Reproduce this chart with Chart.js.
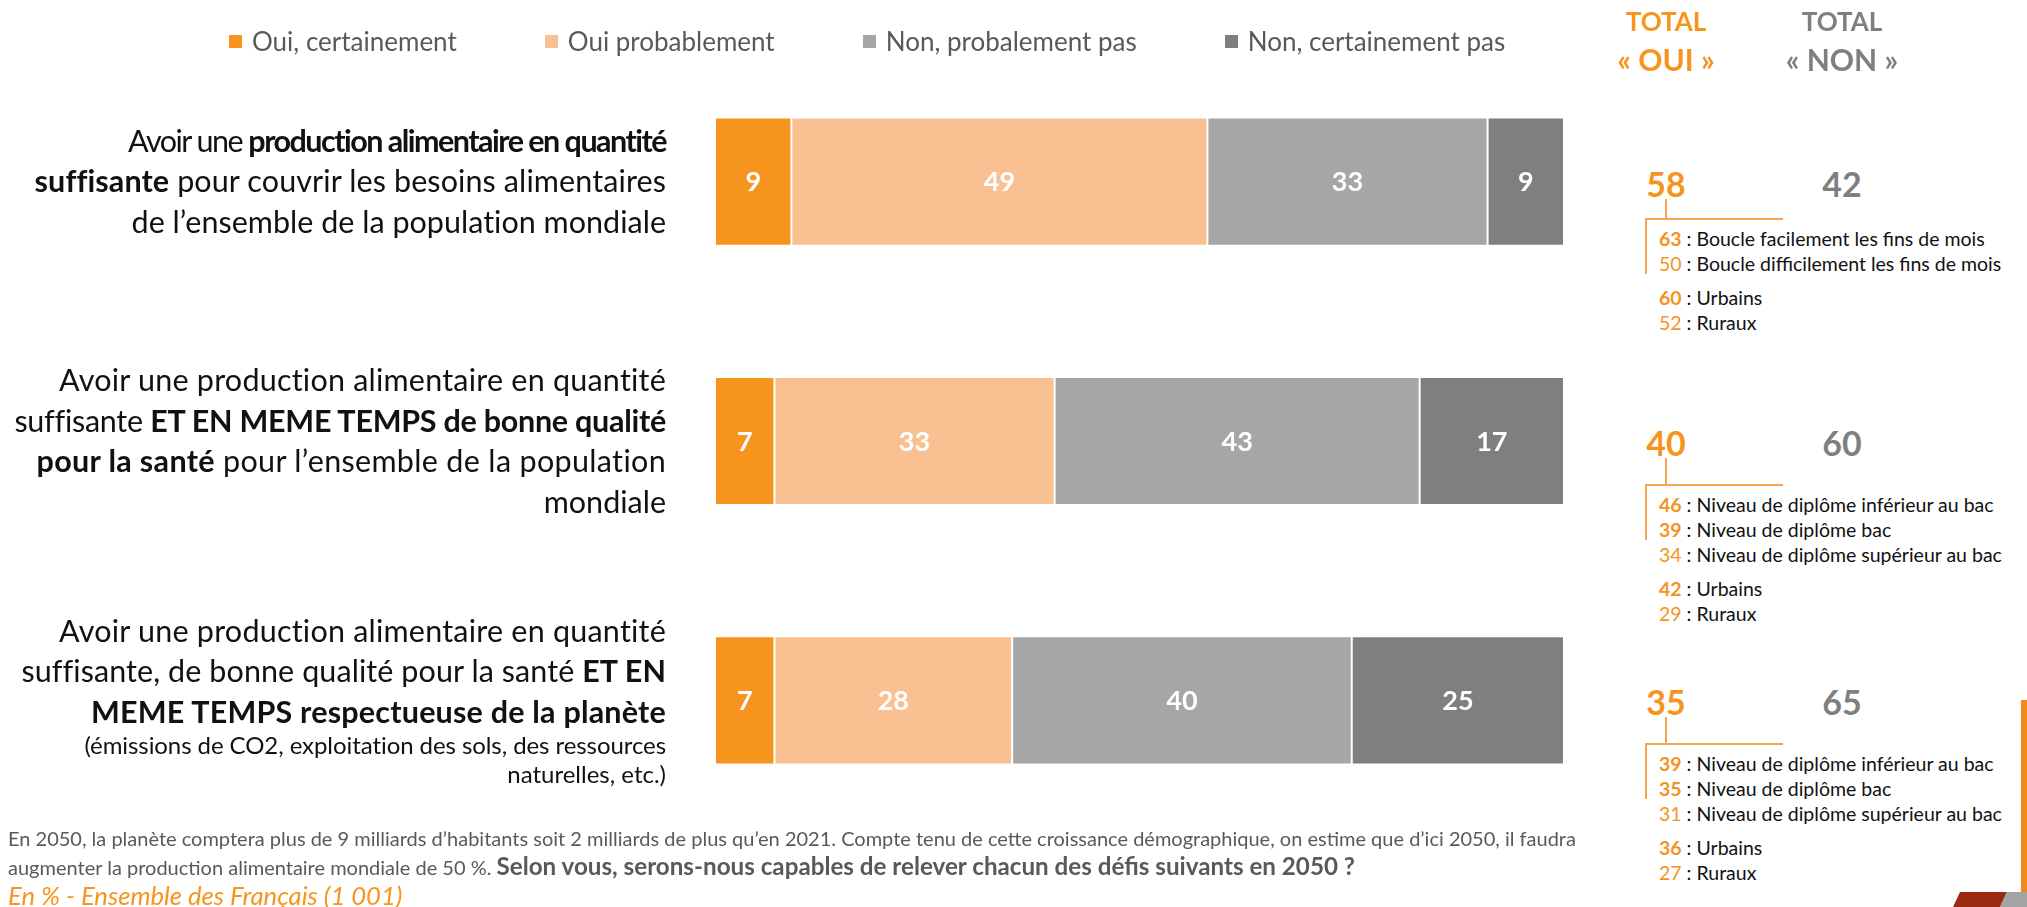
<!DOCTYPE html>
<html lang="fr">
<head>
<meta charset="utf-8">
<script src="https://cdn.jsdelivr.net/npm/chart.js@4.4.1/dist/chart.umd.min.js"></script>
<style>
body{margin:0;width:2027px;height:907px;position:relative;overflow:hidden;background:#fff;font-family:Lato,'Open Sans',sans-serif;}
#wrap{position:absolute;left:0;top:0;width:1600px;height:860px;}
#legend{position:absolute;top:25px;left:229px;display:flex;gap:88px;font-size:26px;color:#595959;white-space:nowrap;}
#legend .item{display:flex;align-items:center;}
#legend .box{width:13px;height:13px;margin-right:10px;}
.q{position:absolute;right:1361px;text-align:right;color:#111;font-size:30.5px;line-height:40.5px;white-space:nowrap;}
.q .s{font-size:24px;line-height:29px;}
.q .s1{margin-top:-1px;}
.head{position:absolute;top:2px;width:200px;text-align:center;font-weight:bold;font-size:26px;line-height:38px;}
.head span{font-size:30px;}
.tot{position:absolute;width:120px;text-align:center;font-weight:bold;font-size:34px;line-height:44px;}
.brk{position:absolute;background:#F5A550;}
.det{position:absolute;left:1659px;font-size:19.5px;line-height:25px;color:#111;white-space:nowrap;}
.det .n{color:#F39323;}
.det .sep{height:9px;}
#foot{position:absolute;left:8px;top:824px;font-size:20px;line-height:28px;color:#595959;white-space:nowrap;}
#foot b{font-size:24.2px;}
#foot i{color:#F7941D;font-size:25.6px;}
</style>
</head>
<body>
<div id="wrap"><canvas id="grafico" width="1600" height="860"></canvas></div>
<div id="legend"></div>
<div id="foot">En 2050, la planète comptera plus de 9 milliards d’habitants soit 2 milliards de plus qu’en 2021. Compte tenu de cette croissance démographique, on estime que d’ici 2050, il faudra<br>augmenter la production alimentaire mondiale de 50 %. <b>Selon vous, serons-nous capables de relever chacun des défis suivants en 2050 ?</b><br><i>En % - Ensemble des Français (1 001)</i></div>
<svg style="position:absolute;left:1940px;top:700px" width="87" height="207">
  <polygon points="81,0 87,0 87,192 81,192" fill="#F08A1C"/>
  <polygon points="13,207 20,192 67,192 60,207" fill="#9A2B10"/>
  <polygon points="60,207 67,192 87,192 87,207" fill="#A3A3A3"/>
</svg>
<script>
const categorias = ['Quantité suffisante', 'Quantité et qualité', 'Quantité, qualité et planète'];
const series = ['Oui, certainement', 'Oui probablement', 'Non, probalement pas', 'Non, certainement pas'];
const colores = ['#F7941D', '#F9C192', '#A6A6A6', '#7F7F7F'];
const ouiCertainement = [9, 7, 7];
const ouiProbablement = [49, 33, 28];
const nonProbablement = [33, 43, 40];
const nonCertainement = [9, 17, 25];
const totalOui = [58, 40, 35];
const totalNon = [42, 60, 65];

const preguntas = [
  ['Avoir une <b>production alimentaire en quantité</b>', '<b>suffisante</b> pour couvrir les besoins alimentaires', 'de l’ensemble de la population mondiale'],
  ['Avoir une production alimentaire en quantité', 'suffisante <b>ET EN MEME TEMPS de bonne qualité</b>', '<b>pour la santé</b> pour l’ensemble de la population', 'mondiale'],
  ['Avoir une production alimentaire en quantité', 'suffisante, de bonne qualité pour la santé <b>ET EN</b>', '<b>MEME TEMPS respectueuse de la planète</b>', '(émissions de CO2, exploitation des sols, des ressources', 'naturelles, etc.)']
];
const lineasPequenas = [[], [], [3, 4]];

const detalleValores = [[63, 50, 60, 52], [46, 39, 34, 42, 29], [39, 35, 31, 36, 27]];
const detalleNegrita = [[1, 0, 1, 0], [1, 1, 0, 1, 0], [1, 1, 0, 1, 0]];
const detalleTextos = [
  ['Boucle facilement les fins de mois', 'Boucle difficilement les fins de mois', 'Urbains', 'Ruraux'],
  ['Niveau de diplôme inférieur au bac', 'Niveau de diplôme bac', 'Niveau de diplôme supérieur au bac', 'Urbains', 'Ruraux'],
  ['Niveau de diplôme inférieur au bac', 'Niveau de diplôme bac', 'Niveau de diplôme supérieur au bac', 'Urbains', 'Ruraux']
];
const detalleCorte = [2, 3, 3];

const valores = [ouiCertainement, ouiProbablement, nonProbablement, nonCertainement];

// ancho de cada linea de texto (px) para imitar la fuente original, 0 = sin ajuste
const anchos = [[539, 630, 535], [608, 650, 630, 0], [608, 643, 575, 582, 0]];

// etiquetas blancas dentro de cada barra
const etiquetas = {
  id: 'etiquetas',
  afterDatasetsDraw(chart) {
    const ctx = chart.ctx;
    ctx.save();
    ctx.font = 'bold 27px Lato';
    ctx.fillStyle = '#fff';
    ctx.textAlign = 'center';
    ctx.textBaseline = 'middle';
    chart.data.datasets.forEach((ds, i) => {
      chart.getDatasetMeta(i).data.forEach((bar, j) => {
        ctx.fillText(ds.data[j], (bar.x + bar.base) / 2, bar.y + 1);
      });
    });
    ctx.restore();
  }
};

const myChart = new Chart(document.getElementById('grafico'), {
  type: 'bar',
  data: {
    labels: categorias,
    datasets: series.map((s, i) => ({
      label: s,
      data: valores[i],
      backgroundColor: colores[i],
      borderColor: '#fff',
      borderWidth: 1,
      borderSkipped: false,
      barPercentage: 0.494,
      categoryPercentage: 1
    }))
  },
  options: {
    indexAxis: 'y',
    responsive: false,
    animation: false,
    layout: { padding: { top: 52, bottom: 30, right: 36, left: 0 } },
    plugins: { legend: { display: false }, tooltip: { enabled: false } },
    scales: {
      x: { stacked: true, min: 0, max: 100, display: false },
      y: {
        stacked: true,
        grid: { display: false },
        border: { display: false },
        ticks: { display: false },
        afterFit: (s) => { s.width = 715; }
      }
    }
  },
  plugins: [etiquetas]
});

// leyenda html
const leyenda = document.getElementById('legend');
myChart.data.datasets.forEach(ds => {
  leyenda.insertAdjacentHTML('beforeend', `<div class="item"><span class="box" style="background:${ds.backgroundColor}"></span>${ds.label}</div>`);
});

// encabezados de totales
const colOui = 1666, colNon = 1842;
document.body.insertAdjacentHTML('beforeend', `<div class="head" style="left:${colOui - 100}px;color:#F7941D">TOTAL<br><span>« OUI »</span></div>
<div class="head" style="left:${colNon - 100}px;color:#7F7F7F">TOTAL<br><span>« NON »</span></div>`);

const yScale = myChart.scales.y;
const ajuste = [-4, 3, 3];
categorias.forEach((c, i) => {
  const yc = yScale.getPixelForValue(i);
  const q = document.createElement('div');
  q.className = 'q';
  q.innerHTML = preguntas[i].map((l, k) => {
    const peq = lineasPequenas[i].includes(k);
    const cls = peq ? (lineasPequenas[i][0] === k ? 's s1' : 's') : '';
    return `<div class="${cls}"><span>${l}</span></div>`;
  }).join('');
  document.body.appendChild(q);
  q.querySelectorAll('span').forEach((sp, k) => {
    if (!anchos[i][k]) return;
    const w = sp.getBoundingClientRect().width;
    sp.style.letterSpacing = ((anchos[i][k] - w) / sp.textContent.length) + 'px';
  });
  q.style.top = (yc - q.offsetHeight / 2 - 1) + 'px';

  let html = `<div class="tot" style="left:${colOui - 60}px;top:${yc - 20}px;color:#F7941D">${totalOui[i]}</div>
  <div class="tot" style="left:${colNon - 60}px;top:${yc - 20}px;color:#7F7F7F">${totalNon[i]}</div>
  <div class="brk" style="left:${colOui - 1}px;top:${yc + 17}px;width:2px;height:${23 + ajuste[i]}px"></div>
  <div class="brk" style="left:1645px;top:${yc + 40 + ajuste[i]}px;width:138px;height:2px"></div>
  <div class="brk" style="left:1645px;top:${yc + 40 + ajuste[i]}px;width:2px;height:56px"></div>`;
  let lineas = '';
  detalleValores[i].forEach((v, k) => {
    if (k === detalleCorte[i]) lineas += '<div class="sep"></div>';
    const num = detalleNegrita[i][k] ? `<b>${v}</b>` : v;
    lineas += `<div><span class="n">${num}</span> : ${detalleTextos[i][k]}</div>`;
  });
  html += `<div class="det" style="top:${yc + 48 + ajuste[i]}px">${lineas}</div>`;
  document.body.insertAdjacentHTML('beforeend', html);
});
</script>
</body>
</html>
